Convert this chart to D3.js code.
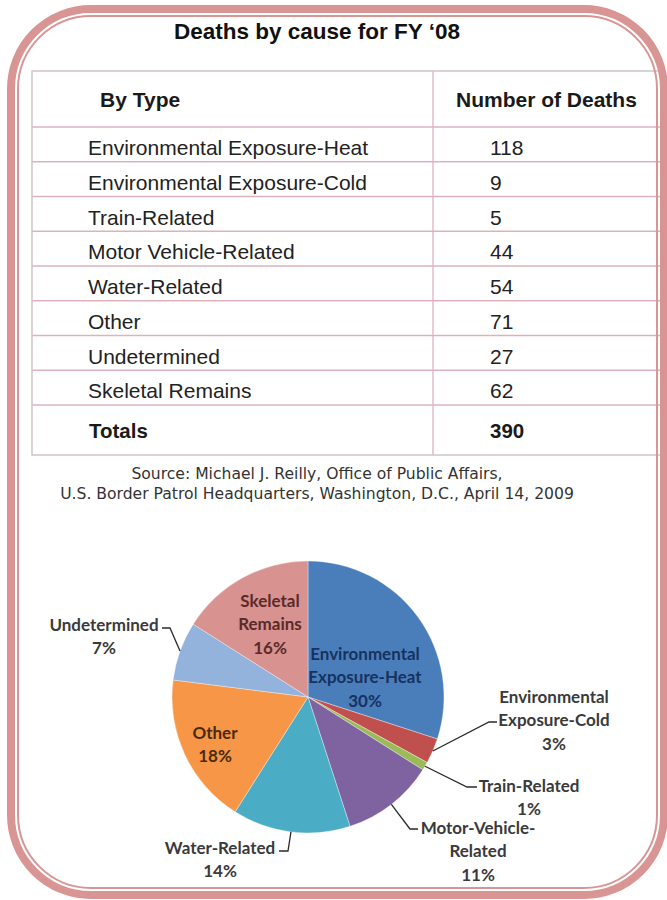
<!DOCTYPE html>
<html>
<head>
<meta charset="utf-8">
<script src="https://cdn.jsdelivr.net/npm/d3@7"></script>
<style>
  html, body { margin: 0; padding: 0; background: #fff; }
  svg { display: block; }
</style>
</head>
<body>
<svg id="chart" width="667" height="900"></svg>
<script>
// ---- data ----
const causes = [
  "Environmental Exposure-Heat",
  "Environmental Exposure-Cold",
  "Train-Related",
  "Motor Vehicle-Related",
  "Water-Related",
  "Other",
  "Undetermined",
  "Skeletal Remains"
];
const deaths = [118, 9, 5, 44, 54, 71, 27, 62];
const tableHeaders = ["By Type", "Number of Deaths"];
const totalsLabel = "Totals";

// pie shares as printed on the slices (percent)
const pieNames = [
  ["Environmental", "Exposure-Heat"],
  ["Environmental", "Exposure-Cold"],
  ["Train-Related"],
  ["Motor-Vehicle-", "Related"],
  ["Water-Related"],
  ["Other"],
  ["Undetermined"],
  ["Skeletal", "Remains"]
];
const pieShares = [30, 3, 1, 11, 14, 18, 7, 16];
const pieColors = ["#4a7ebb", "#c0504d", "#9bbb59", "#7f63a1", "#4aacc5", "#f79646", "#93b3dd", "#d8928f"];

const titleText = "Deaths by cause for FY \u201808";
const sourceLines = [
  "Source: Michael J. Reilly, Office of Public Affairs,",
  "U.S. Border Patrol Headquarters, Washington, D.C., April 14, 2009"
];

// ---- layout ----
const svg = d3.select("#chart");
const W = 667, H = 900;
svg.append("rect").attr("width", W).attr("height", H).attr("fill", "#fff");

// title
svg.append("text")
  .attr("x", 317).attr("y", 39)
  .attr("text-anchor", "middle")
  .attr("font-family", "Liberation Sans, Arial, sans-serif")
  .attr("font-weight", "bold")
  .attr("font-size", 22.5)
  .attr("fill", "#111")
  .text(titleText);

// table geometry
const tbl = { left: 32, right: 661, top: 71, headerBottom: 127, rowH: 34.75, totalsH: 50, colX: 433 };
const rowTops = causes.map((c, i) => tbl.headerBottom + i * tbl.rowH);
const totalsTop = tbl.headerBottom + causes.length * tbl.rowH;
const tblBottom = totalsTop + tbl.totalsH;

const tableG = svg.append("g");
// row separators
const sepYs = [tbl.headerBottom].concat(rowTops.slice(1)).concat([totalsTop]);
tableG.selectAll("line.sep").data(sepYs).join("line")
  .attr("class", "sep")
  .attr("x1", tbl.left).attr("x2", tbl.right)
  .attr("y1", d => d).attr("y2", d => d)
  .attr("stroke", "#dcb3bd").attr("stroke-width", 1.3);
// column divider
tableG.append("line")
  .attr("x1", tbl.colX).attr("x2", tbl.colX)
  .attr("y1", tbl.top).attr("y2", tblBottom)
  .attr("stroke", "#dcb3bd").attr("stroke-width", 1.3);
// outer box
tableG.append("rect")
  .attr("x", tbl.left).attr("y", tbl.top)
  .attr("width", tbl.right - tbl.left).attr("height", tblBottom - tbl.top)
  .attr("fill", "none").attr("stroke", "#cfc4c8").attr("stroke-width", 1.5);

const tFont = "Liberation Sans, Arial, sans-serif";
// header
tableG.append("text").attr("x", 100).attr("y", 107)
  .attr("font-family", tFont).attr("font-size", 21).attr("font-weight", "bold").attr("fill", "#1a1a1a")
  .text(tableHeaders[0]);
tableG.append("text").attr("x", 456).attr("y", 107)
  .attr("font-family", tFont).attr("font-size", 21).attr("font-weight", "bold").attr("fill", "#1a1a1a")
  .text(tableHeaders[1]);

// body rows
const rows = tableG.selectAll("g.row").data(causes.map((c, i) => ({ name: c, value: deaths[i], top: rowTops[i] })))
  .join("g").attr("class", "row");
rows.append("text").attr("x", 88).attr("y", d => d.top + 28)
  .attr("font-family", tFont).attr("font-size", 21).attr("fill", "#222")
  .text(d => d.name);
rows.append("text").attr("x", 490).attr("y", d => d.top + 28)
  .attr("font-family", tFont).attr("font-size", 21).attr("fill", "#222")
  .text(d => d.value);

// totals
tableG.append("text").attr("x", 89).attr("y", totalsTop + 33)
  .attr("font-family", tFont).attr("font-size", 20.5).attr("font-weight", "bold").attr("fill", "#1a1a1a")
  .text(totalsLabel);
tableG.append("text").attr("x", 490).attr("y", totalsTop + 33)
  .attr("font-family", tFont).attr("font-size", 20.5).attr("font-weight", "bold").attr("fill", "#1a1a1a")
  .text(d3.sum(deaths));

// source note
svg.append("g").selectAll("text").data(sourceLines).join("text")
  .attr("x", 317).attr("y", (d, i) => 479 + i * 20)
  .attr("text-anchor", "middle")
  .attr("font-family", "DejaVu Sans, Verdana, sans-serif")
  .attr("font-size", 15.6)
  .attr("fill", "#333")
  .text(d => d);

// ---- pie ----
const cx = 308, cy = 697, R = 136;
const pie = d3.pie().sort(null).value(d => d.share);
const slices = pie(pieShares.map((s, i) => ({ share: s, name: pieNames[i], color: pieColors[i] })));
const arc = d3.arc().innerRadius(0).outerRadius(R);
const pieG = svg.append("g").attr("transform", `translate(${cx},${cy})`);
pieG.selectAll("path").data(slices).join("path")
  .attr("d", arc)
  .attr("fill", d => d.data.color)
  .attr("stroke", "#ffffff").attr("stroke-opacity", 0.5).attr("stroke-width", 0.7);

// label placement: label centre x, first line centre y, text colour,
// and for outside labels the elbow of the leader line (absolute coords)
const labelLayout = [
  { x: 365, y: 654, fill: "#17325f" },
  { x: 554, y: 697, fill: "#3a3a3a", leader: [[497, 722], [489, 722]] },
  { x: 529, y: 786, fill: "#3a3a3a", leader: [[477, 787], [467, 787]] },
  { x: 478, y: 828, fill: "#3a3a3a", leader: [[418, 829], [410, 829]] },
  { x: 220, y: 848, fill: "#3a3a3a", leader: [[279, 851], [288, 851]] },
  { x: 215, y: 733, fill: "#4a2b10" },
  { x: 104, y: 625, fill: "#3a3a3a", leader: [[162, 628], [170, 628]] },
  { x: 270, y: 601, fill: "#5a2a2a" }
];
const lineGap = 23.3;
const labelFont = "Lato, 'Open Sans', sans-serif";

slices.forEach((s, i) => {
  const L = labelLayout[i];
  const lines = s.data.name.concat([Math.round(s.data.share) + "%"]);
  if (L.leader) {
    const mid = (s.startAngle + s.endAngle) / 2;
    const edge = [cx + Math.sin(mid) * R, cy - Math.cos(mid) * R];
    svg.append("path")
      .attr("d", d3.line()(L.leader.concat([edge])))
      .attr("fill", "none").attr("stroke", "#2a2a2a").attr("stroke-width", 1.3);
  }
  svg.append("g").selectAll("text").data(lines).join("text")
    .attr("x", L.x).attr("y", (d, j) => L.y + j * lineGap)
    .attr("dy", "0.36em")
    .attr("text-anchor", "middle")
    .attr("font-family", labelFont)
    .attr("font-weight", 700)
    .attr("font-size", 17)
    .attr("fill", L.fill)
    .text(d => d);
});

// ---- rounded double frame ----
const frameColor = "#d99594";
svg.append("rect")
  .attr("x", 11).attr("y", 9).attr("width", 653).attr("height", 886)
  .attr("rx", 80).attr("ry", 80)
  .attr("fill", "none").attr("stroke", frameColor).attr("stroke-width", 8);
svg.append("rect")
  .attr("x", 18).attr("y", 16).attr("width", 639).attr("height", 872)
  .attr("rx", 73).attr("ry", 73)
  .attr("fill", "none").attr("stroke", frameColor).attr("stroke-width", 2);
</script>
</body>
</html>
